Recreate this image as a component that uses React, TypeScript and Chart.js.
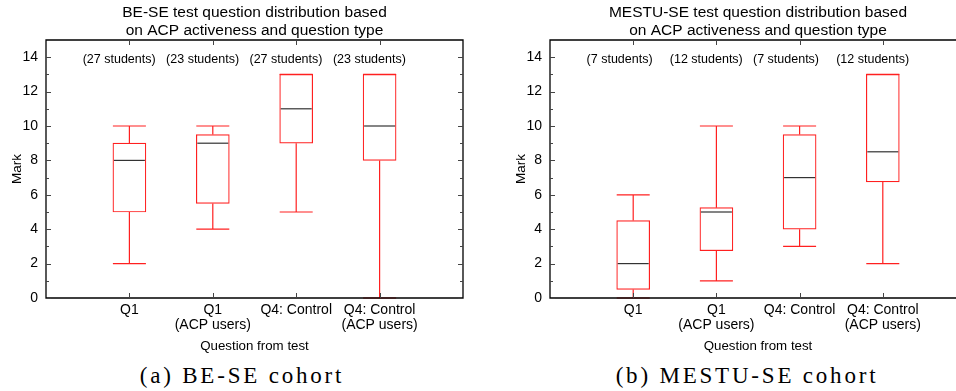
import React, { useEffect, useRef } from 'react';
import { Chart, registerables } from 'chart.js';

Chart.register(...registerables);

const FONT = "'Liberation Sans', Arial, Helvetica, sans-serif";

// ---- shared axis data ----
const categories: string[][] = [
  ['Q1'],
  ['Q1', '(ACP users)'],
  ['Q4: Control'],
  ['Q4: Control', '(ACP users)'],
];
const categoryPositions = [1, 2, 3, 4];
const yTicks = [0, 2, 4, 6, 8, 10, 12, 14];
const yMinorTicks = [1, 3, 5, 7, 9, 11, 13];
const countLabelValue = 14;

// ---- BE-SE cohort ----
const beTitle = ['BE-SE test question distribution based', 'on ACP activeness and question type'];
const beMin = [2, 4, 5, 0];
const beQ1 = [5, 5.5, 9, 8];
const beMedian = [8, 9, 11, 10];
const beQ3 = [9, 9.5, 13, 13];
const beMax = [10, 10, 13, 13];
const beCounts = ['(27 students)', '(23 students)', '(27 students)', '(23 students)'];

// ---- MESTU-SE cohort ----
const meTitle = ['MESTU-SE test question distribution based', 'on ACP activeness and question type'];
const meMin = [0, 1, 3, 2];
const meQ1 = [0.5, 2.75, 4, 6.75];
const meMedian = [2, 5, 7, 8.5];
const meQ3 = [4.5, 5.25, 9.5, 13];
const meMax = [6, 10, 10, 13];
const meCounts = ['(7 students)', '(12 students)', '(7 students)', '(12 students)'];

const BOX_WIDTH = 33;

type Stats = { min: number[]; q1: number[]; med: number[]; q3: number[]; max: number[]; counts: string[] };

function makeBoxPlugin(s: Stats) {
  return {
    id: 'boxExtras',
    beforeDatasetsDraw(chart: any) {
      const { ctx } = chart;
      const xs = chart.scales.x;
      const ys = chart.scales.y;
      const half = BOX_WIDTH / 2;
      ctx.save();
      ctx.strokeStyle = '#ff2020';
      ctx.lineWidth = 1.2;
      categoryPositions.forEach((p, i) => {
        const x = xs.getPixelForValue(p);
        const yMin = ys.getPixelForValue(s.min[i]);
        const yQ1 = ys.getPixelForValue(s.q1[i]);
        const yQ3 = ys.getPixelForValue(s.q3[i]);
        const yMax = ys.getPixelForValue(s.max[i]);
        ctx.beginPath();
        ctx.moveTo(x, yMin);
        ctx.lineTo(x, yQ1);
        ctx.moveTo(x, yQ3);
        ctx.lineTo(x, yMax);
        ctx.moveTo(x - half, yMin);
        ctx.lineTo(x + half, yMin);
        ctx.moveTo(x - half, yMax);
        ctx.lineTo(x + half, yMax);
        ctx.stroke();
      });
      ctx.restore();
    },
    afterDatasetsDraw(chart: any) {
      const { ctx, chartArea } = chart;
      const xs = chart.scales.x;
      const ys = chart.scales.y;
      const half = BOX_WIDTH / 2;
      ctx.save();
      // medians
      ctx.strokeStyle = '#333333';
      ctx.lineWidth = 1.2;
      categoryPositions.forEach((p, i) => {
        const x = xs.getPixelForValue(p);
        const y = ys.getPixelForValue(s.med[i]);
        ctx.beginPath();
        ctx.moveTo(x - half + 1, y);
        ctx.lineTo(x + half - 1, y);
        ctx.stroke();
      });
      // student count labels
      ctx.fillStyle = '#000';
      ctx.font = `12.5px ${FONT}`;
      ctx.textAlign = 'left';
      ctx.textBaseline = 'middle';
      categoryPositions.forEach((p, i) => {
        ctx.fillText(s.counts[i], xs.getPixelForValue(p - 0.56), ys.getPixelForValue(countLabelValue) + 2);
      });
      // frame
      const { left, right, top, bottom } = chartArea;
      ctx.strokeStyle = '#000';
      ctx.lineWidth = 1.3;
      ctx.beginPath();
      ctx.rect(left, top, right - left, bottom - top);
      ctx.stroke();
      // ticks (inward)
      ctx.strokeStyle = '#444';
      ctx.lineWidth = 1;
      ctx.beginPath();
      yTicks.forEach((v) => {
        const y = Math.round(ys.getPixelForValue(v)) + 0.5;
        ctx.moveTo(left, y);
        ctx.lineTo(left + 5, y);
        ctx.moveTo(right, y);
        ctx.lineTo(right - 5, y);
      });
      yMinorTicks.forEach((v) => {
        const y = Math.round(ys.getPixelForValue(v)) + 0.5;
        ctx.moveTo(left, y);
        ctx.lineTo(left + 3, y);
        ctx.moveTo(right, y);
        ctx.lineTo(right - 3, y);
      });
      categoryPositions.forEach((p) => {
        const x = Math.round(xs.getPixelForValue(p)) + 0.5;
        ctx.moveTo(x, top);
        ctx.lineTo(x, top + 5);
        ctx.moveTo(x, bottom);
        ctx.lineTo(x, bottom - 5);
      });
      ctx.stroke();
      ctx.restore();
    },
  };
}

type Props = {
  title: string[];
  stats: Stats;
  width: number;
  padLeft: number;
  padRight: number;
};

const CANVAS_H = 356;

function BoxChart({ title, stats, width, padLeft, padRight }: Props) {
  const ref = useRef<HTMLCanvasElement>(null);
  useEffect(() => {
    if (!ref.current) return;
    const chart = new Chart(ref.current, {
      type: 'bar',
      data: {
        datasets: [
          {
            data: categoryPositions.map((x, i) => ({ x, y: [stats.q1[i], stats.q3[i]] })) as any,
            backgroundColor: '#ffffff',
            borderColor: '#ff2020',
            borderWidth: 1.2,
            borderSkipped: false,
            barThickness: BOX_WIDTH,
            grouped: false,
          } as any,
        ],
      },
      options: {
        animation: false,
        responsive: false,
        maintainAspectRatio: false,
        layout: { padding: { left: padLeft, right: padRight, top: 0, bottom: 0 } },
        plugins: {
          legend: { display: false },
          tooltip: { enabled: false },
          title: {
            display: true,
            text: title,
            color: '#000',
            fullSize: false,
            font: { family: FONT, size: 15.5, weight: 'normal', lineHeight: 18 / 15.5 },
            padding: { top: 4, bottom: 0 },
          },
        },
        scales: {
          x: {
            type: 'linear',
            min: 0,
            max: 5,
            offset: false,
            grid: { display: false, drawTicks: false, offset: false },
            border: { display: false },
            afterBuildTicks: (scale: any) => {
              scale.ticks = categoryPositions.map((v) => ({ value: v }));
            },
            afterFit: (scale: any) => {
              scale.height = 58;
            },
            ticks: {
              autoSkip: false,
              maxRotation: 0,
              minRotation: 0,
              padding: 4,
              color: '#000',
              font: { family: FONT, size: 14, lineHeight: 1.1 },
              callback: (v: any) => categories[categoryPositions.indexOf(Number(v))] ?? '',
            },
            title: {
              display: true,
              text: 'Question from test',
              color: '#000',
              font: { family: FONT, size: 13.3 },
              padding: { top: 0, bottom: 2 },
            },
          },
          y: {
            min: 0,
            max: 15,
            grid: { display: false, drawTicks: false },
            border: { display: false },
            afterBuildTicks: (scale: any) => {
              scale.ticks = yTicks.map((v) => ({ value: v }));
            },
            afterFit: (scale: any) => {
              scale.width = 46;
            },
            ticks: {
              padding: 8,
              color: '#000',
              font: { family: FONT, size: 14 },
            },
            title: {
              display: true,
              text: 'Mark',
              color: '#000',
              font: { family: FONT, size: 13.5 },
              padding: { top: 9, bottom: 0 },
            },
          },
        },
      } as any,
      plugins: [makeBoxPlugin(stats)],
    });
    return () => chart.destroy();
  }, []);
  return (
    <canvas
      ref={ref}
      width={width}
      height={CANVAS_H}
      style={{ width, height: CANVAS_H, display: 'block' }}
    />
  );
}

const captionStyle: React.CSSProperties = {
  position: 'absolute',
  top: 364,
  width: 320,
  textAlign: 'center',
  fontFamily: "'Liberation Serif', 'Times New Roman', serif",
  fontSize: 23,
  lineHeight: '23px',
  letterSpacing: '2.8px',
  color: '#000',
  whiteSpace: 'nowrap',
};

export default function App() {
  return (
    <div
      style={{
        position: 'absolute',
        left: 0,
        top: 0,
        width: 956,
        height: 391,
        overflow: 'hidden',
        background: '#fff',
      }}
    >
      <div style={{ position: 'absolute', left: 0, top: 0, width: 478, height: CANVAS_H }}>
        <BoxChart
          title={beTitle}
          stats={{ min: beMin, q1: beQ1, med: beMedian, q3: beQ3, max: beMax, counts: beCounts }}
          width={478}
          padLeft={0}
          padRight={15}
        />
      </div>
      <div style={{ position: 'absolute', left: 478, top: 0, width: 478, height: CANVAS_H, overflow: 'hidden' }}>
        <BoxChart
          title={meTitle}
          stats={{ min: meMin, q1: meQ1, med: meMedian, q3: meQ3, max: meMax, counts: meCounts }}
          width={488}
          padLeft={26}
          padRight={0}
        />
      </div>
      <div style={{ ...captionStyle, left: 241 - 160 + 1 }}>(a) BE-SE cohort</div>
      <div style={{ ...captionStyle, left: 746 - 160 + 1 }}>(b) MESTU-SE cohort</div>
    </div>
  );
}
